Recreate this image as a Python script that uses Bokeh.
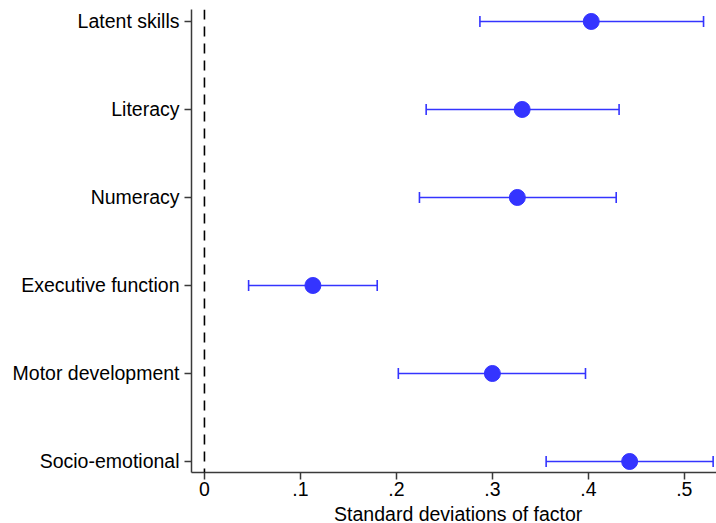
from bokeh.plotting import figure
from bokeh.models import ColumnDataSource, Whisker, TeeHead, Span, Range1d, FixedTicker, Label
from bokeh.embed import file_html
from bokeh.resources import INLINE

categories = ["Latent skills", "Literacy", "Numeracy", "Executive function",
              "Motor development", "Socio-emotional"]
estimate = [0.403, 0.331, 0.326, 0.113, 0.300, 0.443]
ci_low = [0.287, 0.231, 0.224, 0.046, 0.202, 0.356]
ci_high = [0.520, 0.432, 0.429, 0.180, 0.397, 0.530]
x_ticks = [0, 0.1, 0.2, 0.3, 0.4, 0.5]
x_tick_labels = ["0", ".1", ".2", ".3", ".4", ".5"]
x_title = "Standard deviations of factor"

n = len(categories)
ypos = [n - 1 - i for i in range(n)]

FONT = "Liberation Sans"
BLUE = "#3434ff"
AXIS = "#3a3a3a"

src = ColumnDataSource(dict(y=ypos, est=estimate, lo=ci_low, hi=ci_high))

y_lo, y_hi = -0.125, 5.136
p = figure(width=716, height=523, output_backend="svg", toolbar_location=None,
           x_range=Range1d(-0.0135, 0.5335), y_range=Range1d(y_lo, y_hi),
           min_border_left=191, min_border_right=0, min_border_top=9, min_border_bottom=51)
p.outline_line_color = None
p.xgrid.visible = False
p.ygrid.visible = False
p.background_fill_color = "white"

p.add_layout(Span(location=0, dimension="height", line_color="black",
                  line_width=1.6, line_dash="10 7"))

w = Whisker(base="y", lower="lo", upper="hi", dimension="width", source=src,
            line_color=BLUE, line_width=1.6,
            upper_head=TeeHead(size=11, line_color=BLUE, line_width=1.6),
            lower_head=TeeHead(size=11, line_color=BLUE, line_width=1.6))
p.add_layout(w)
p.scatter(x="est", y="y", source=src, size=16, color=BLUE, line_color=BLUE)

# x axis
p.xaxis.ticker = FixedTicker(ticks=x_ticks)
p.xaxis.major_label_overrides = {t: l for t, l in zip(x_ticks, x_tick_labels)}
p.xaxis.minor_tick_line_color = None
p.xaxis.major_tick_out = 7
p.xaxis.major_tick_in = 0
p.xaxis.major_label_standoff = 2

# x axis title, drawn in the panel below the frame
p.add_layout(Label(x=0.2644, y=y_lo, y_offset=-41, text=x_title,
                   text_align="center", text_baseline="alphabetic",
                   text_font=FONT, text_font_size="19.5px", text_color="black"), "below")

# y axis
p.yaxis.ticker = FixedTicker(ticks=ypos)
p.yaxis.major_label_overrides = {y: c for y, c in zip(ypos, categories)}
p.yaxis.minor_tick_line_color = None
p.yaxis.major_tick_out = 7
p.yaxis.major_tick_in = 0
p.yaxis.major_label_standoff = 5

for ax in (p.xaxis, p.yaxis):
    ax.axis_line_color = AXIS
    ax.axis_line_width = 1.5
    ax.major_tick_line_color = AXIS
    ax.major_tick_line_width = 1.5
    ax.major_label_text_font = FONT
    ax.major_label_text_font_size = "19.5px"
    ax.major_label_text_color = "black"

open("out.html", "w").write(file_html(p, INLINE))
